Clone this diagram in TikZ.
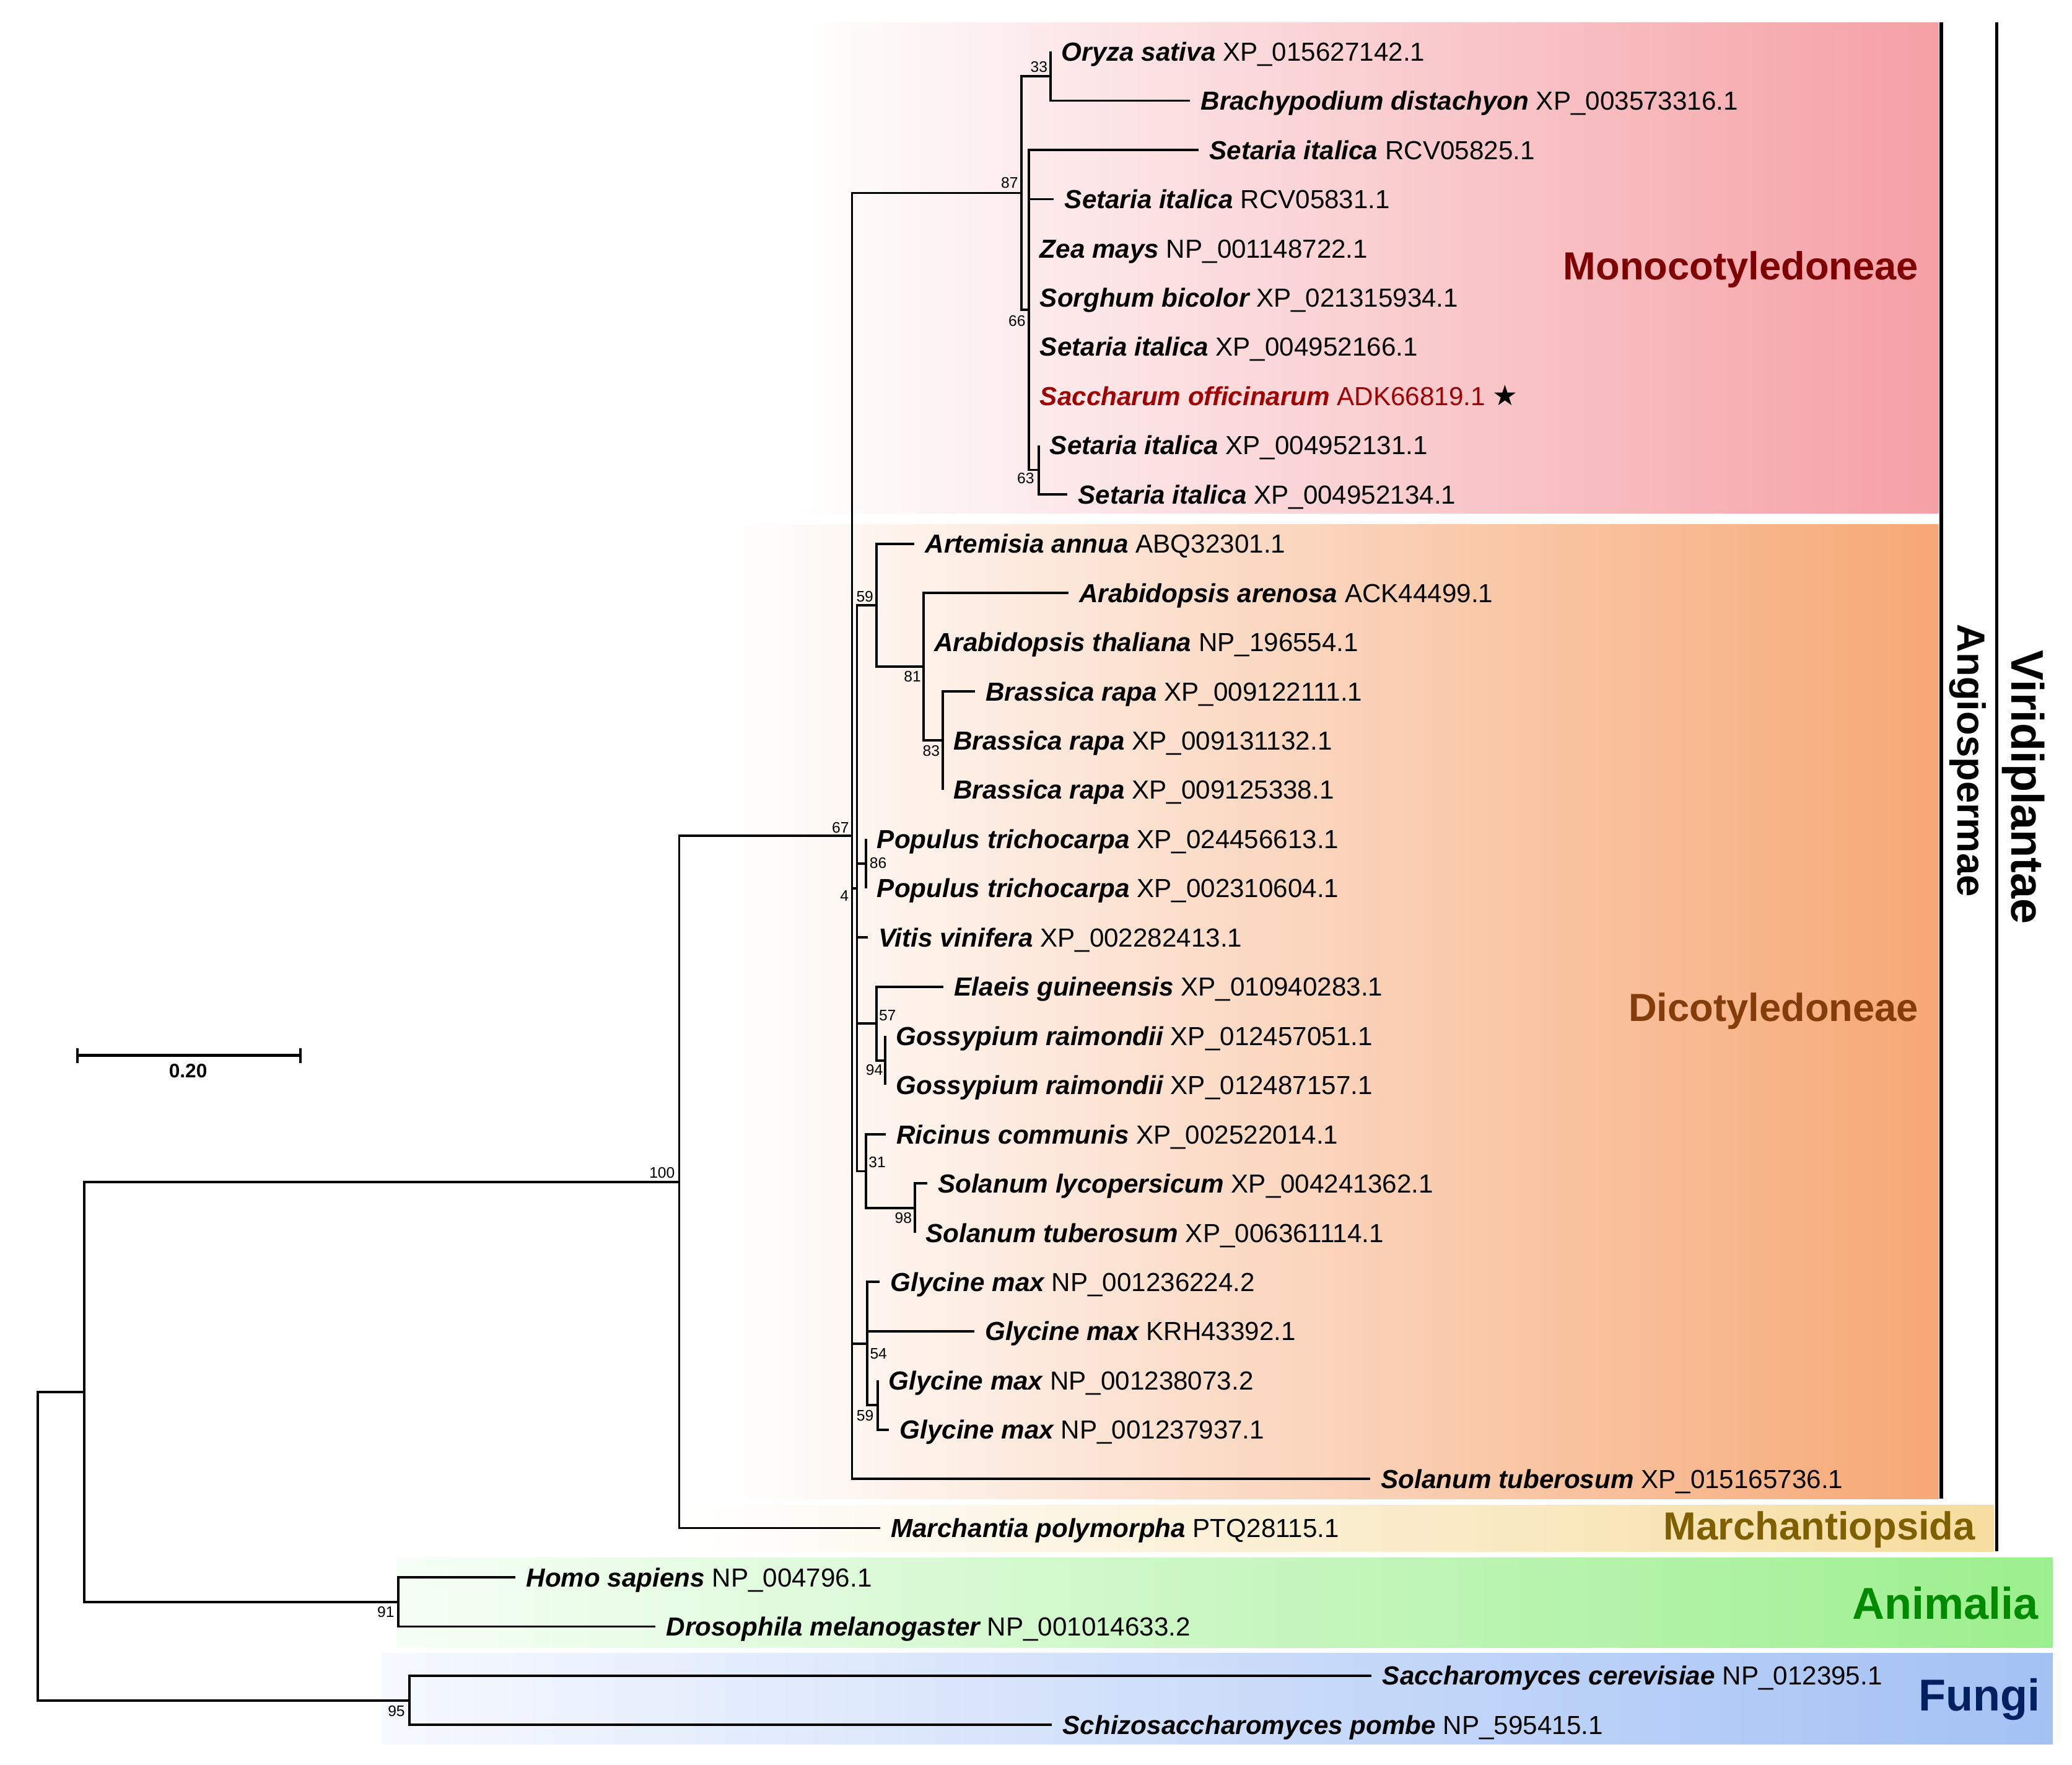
\documentclass[tikz,border=0pt]{standalone}
\usepackage{fontspec}
\setmainfont{Liberation Sans}
\newfontfamily\dejavu{DejaVu Sans}
\definecolor{monoR}{HTML}{F5A0A5}
\definecolor{dicotR}{HTML}{F6A875}
\definecolor{marR}{HTML}{F6DC9E}
\definecolor{animL}{HTML}{F6FFF6}
\definecolor{animR}{HTML}{9CEF8E}
\definecolor{fungL}{HTML}{F6F9FF}
\definecolor{fungR}{HTML}{A3C1F4}
\definecolor{monoT}{HTML}{7F0000}
\definecolor{dicotT}{HTML}{843C0B}
\definecolor{marT}{HTML}{7F6000}
\definecolor{animT}{HTML}{008A00}
\definecolor{fungT}{HTML}{002060}
\definecolor{sacT}{HTML}{A00000}
\newcommand{\lf}[2]{{\bfseries\itshape #1} #2}
\begin{document}
\begin{tikzpicture}[x=0.021333cm,y=-0.021333cm,
  br/.style={line width=1.1pt},
  bar/.style={line width=1.6pt},
  scalebar/.style={line width=1.3pt},
  leaf/.style={anchor=base west, inner sep=0pt, xshift=4.8pt, yshift=-4.3pt, font=\fontsize{12}{14}\selectfont},
  bs/.style={inner sep=0pt, font=\fontsize{7}{8}\selectfont},
  clade/.style={inner sep=0pt, anchor=base east, yshift=-6.4pt, font=\fontsize{18}{20}\selectfont\bfseries},
  bigclade/.style={inner sep=0pt, anchor=base east, yshift=-7.3pt, font=\fontsize{20.5}{22}\selectfont\bfseries},
]
\useasboundingbox (0,0) rectangle (1568,1335.5);

% background bands
\shade[left color=white, right color=monoR] (600,17) rectangle (1467,388.5);
\shade[left color=white, right color=dicotR] (552,396.7) rectangle (1467,1134);
\shade[left color=white, right color=marR] (520,1139) rectangle (1509,1174);
\shade[left color=animL, right color=animR] (300,1178.5) rectangle (1553.5,1246.5);
\shade[left color=fungL, right color=fungR] (289,1250.7) rectangle (1553.5,1320);

% internal nodes
\coordinate (root) at (28.5,1169.9);
\coordinate (nA) at (63.6,1053.2);
\coordinate (nAnim) at (301.4,1212.05);
\coordinate (nF) at (309.7,1286.55);
\coordinate (nPlant) at (514,894.35);
\coordinate (nAngio) at (644.8,632.5);
\coordinate (nMono) at (772.9,146.05);
\coordinate (n33) at (795.2,57.6);
\coordinate (n66) at (778.8,234.5);
\coordinate (n63) at (786.3,355.55);
\coordinate (n4) at (648.5,672.1);
\coordinate (n59) at (663.3,457.95);
\coordinate (n81) at (698.9,504.5);
\coordinate (n83) at (713.3,560.35);
\coordinate (n86) at (655.5,653.45);
\coordinate (n57) at (663.3,774.5);
\coordinate (n94) at (670,802.4);
\coordinate (n31) at (655.5,886.2);
\coordinate (n98) at (692.3,914.15);
\coordinate (n54) at (656.3,1016.55);
\coordinate (n59b) at (664.4,1063.1);

% tips
\coordinate (t0) at (795.2,39.0);
\coordinate (t1) at (900.5,76.2);
\coordinate (t2) at (907,113.5);
\coordinate (t3) at (797.5,150.7);
\coordinate (t4) at (778.8,188.0);
\coordinate (t5) at (778.8,225.2);
\coordinate (t6) at (778.8,262.4);
\coordinate (t7) at (778.8,299.7);
\coordinate (t8) at (786.3,336.9);
\coordinate (t9) at (807.7,374.2);
\coordinate (t10) at (692,411.4);
\coordinate (t11) at (808.4,448.6);
\coordinate (t12) at (698.9,485.9);
\coordinate (t13) at (737.7,523.1);
\coordinate (t14) at (713.3,560.4);
\coordinate (t15) at (713.3,597.6);
\coordinate (t16) at (655.5,634.8);
\coordinate (t17) at (655.5,672.1);
\coordinate (t18) at (656.6,709.3);
\coordinate (t19) at (714,746.6);
\coordinate (t20) at (670,783.8);
\coordinate (t21) at (670,821.0);
\coordinate (t22) at (670.3,858.3);
\coordinate (t23) at (701.6,895.5);
\coordinate (t24) at (692.3,932.8);
\coordinate (t25) at (665.6,970.0);
\coordinate (t26) at (737.2,1007.2);
\coordinate (t27) at (664.4,1044.5);
\coordinate (t28) at (672.7,1081.7);
\coordinate (t29) at (1037,1119.0);
\coordinate (t30) at (666,1156.2);
\coordinate (t31) at (390,1193.4);
\coordinate (t32) at (496,1230.7);
\coordinate (t33) at (1038,1267.9);
\coordinate (t34) at (796,1305.2);

% branches
\foreach \p/\c in {root/nA, root/nF, nA/nPlant, nA/nAnim, nAnim/t31, nAnim/t32,
  nF/t33, nF/t34, nPlant/nAngio, nPlant/t30, nAngio/nMono, nAngio/n4, nAngio/n54, nAngio/t29,
  nMono/n33, nMono/n66, n33/t0, n33/t1, n66/t2, n66/t3, n66/t4, n66/t5, n66/t6, n66/t7, n66/n63,
  n63/t8, n63/t9, n4/n59, n4/n86, n4/t18, n4/n57, n4/n31, n59/t10, n59/n81,
  n81/t11, n81/t12, n81/n83, n83/t13, n83/t14, n83/t15, n86/t16, n86/t17,
  n57/t19, n57/n94, n94/t20, n94/t21, n31/t22, n31/n98, n98/t23, n98/t24,
  n54/t25, n54/t26, n54/n59b, n59b/t27, n59b/t28}
  \draw[br] (\p) |- (\c);

% leaf labels
\node[leaf] (L0) at (t0) {\lf{Oryza sativa}{XP\_015627142.1}};
\node[leaf] (L1) at (t1) {\lf{Brachypodium distachyon}{XP\_003573316.1}};
\node[leaf] (L2) at (t2) {\lf{Setaria italica}{RCV05825.1}};
\node[leaf] (L3) at (t3) {\lf{Setaria italica}{RCV05831.1}};
\node[leaf] (L4) at (t4) {\lf{Zea mays}{NP\_001148722.1}};
\node[leaf] (L5) at (t5) {\lf{Sorghum bicolor}{XP\_021315934.1}};
\node[leaf] (L6) at (t6) {\lf{Setaria italica}{XP\_004952166.1}};
\node[leaf] (L7) at (t7) {{\color{sacT}\lf{Saccharum officinarum}{ADK66819.1}} {\dejavu\fontsize{13}{14}\selectfont ★}};
\node[leaf] (L8) at (t8) {\lf{Setaria italica}{XP\_004952131.1}};
\node[leaf] (L9) at (t9) {\lf{Setaria italica}{XP\_004952134.1}};
\node[leaf] (L10) at (t10) {\lf{Artemisia annua}{ABQ32301.1}};
\node[leaf] (L11) at (t11) {\lf{Arabidopsis arenosa}{ACK44499.1}};
\node[leaf] (L12) at (t12) {\lf{Arabidopsis thaliana}{NP\_196554.1}};
\node[leaf] (L13) at (t13) {\lf{Brassica rapa}{XP\_009122111.1}};
\node[leaf] (L14) at (t14) {\lf{Brassica rapa}{XP\_009131132.1}};
\node[leaf] (L15) at (t15) {\lf{Brassica rapa}{XP\_009125338.1}};
\node[leaf] (L16) at (t16) {\lf{Populus trichocarpa}{XP\_024456613.1}};
\node[leaf] (L17) at (t17) {\lf{Populus trichocarpa}{XP\_002310604.1}};
\node[leaf] (L18) at (t18) {\lf{Vitis vinifera}{XP\_002282413.1}};
\node[leaf] (L19) at (t19) {\lf{Elaeis guineensis}{XP\_010940283.1}};
\node[leaf] (L20) at (t20) {\lf{Gossypium raimondii}{XP\_012457051.1}};
\node[leaf] (L21) at (t21) {\lf{Gossypium raimondii}{XP\_012487157.1}};
\node[leaf] (L22) at (t22) {\lf{Ricinus communis}{XP\_002522014.1}};
\node[leaf] (L23) at (t23) {\lf{Solanum lycopersicum}{XP\_004241362.1}};
\node[leaf] (L24) at (t24) {\lf{Solanum tuberosum}{XP\_006361114.1}};
\node[leaf] (L25) at (t25) {\lf{Glycine max}{NP\_001236224.2}};
\node[leaf] (L26) at (t26) {\lf{Glycine max}{KRH43392.1}};
\node[leaf] (L27) at (t27) {\lf{Glycine max}{NP\_001238073.2}};
\node[leaf] (L28) at (t28) {\lf{Glycine max}{NP\_001237937.1}};
\node[leaf] (L29) at (t29) {\lf{Solanum tuberosum}{XP\_015165736.1}};
\node[leaf] (L30) at (t30) {\lf{Marchantia polymorpha}{PTQ28115.1}};
\node[leaf] (L31) at (t31) {\lf{Homo sapiens}{NP\_004796.1}};
\node[leaf] (L32) at (t32) {\lf{Drosophila melanogaster}{NP\_001014633.2}};
\node[leaf] (L33) at (t33) {\lf{Saccharomyces cerevisiae}{NP\_012395.1}};
\node[leaf] (L34) at (t34) {\lf{Schizosaccharomyces pombe}{NP\_595415.1}};

% bootstrap values
\node[bs] (b33) at (786.3,50.8) {33};
\node[bs] (b87) at (764,138.5) {87};
\node[bs] (b66) at (769.6,242.6) {66};
\node[bs] (b63) at (776.2,362) {63};
\node[bs] (b59) at (654.5,451.3) {59};
\node[bs] (b81) at (690.5,511.7) {81};
\node[bs] (b83) at (704.7,568) {83};
\node[bs] (b67) at (636,626.3) {67};
\node[bs] (b86) at (664.5,653.1) {86};
\node[bs] (b4) at (639,677.8) {4};
\node[bs] (b57) at (671.6,768.4) {57};
\node[bs] (b94) at (661.7,809.4) {94};
\node[bs] (b31) at (663.8,879.4) {31};
\node[bs] (b98) at (683.6,921.6) {98};
\node[bs] (b54) at (664.8,1024.2) {54};
\node[bs] (b59b) at (654.7,1071) {59};
\node[bs] (b100) at (501,887.4) {100};
\node[bs] (b91) at (292,1219.7) {91};
\node[bs] (b95) at (300,1294.6) {95};

% clade labels
\node[clade, text=monoT] (cMono) at (1452,200.9) {Monocotyledoneae};
\node[clade, text=dicotT] (cDicot) at (1452,762.4) {Dicotyledoneae};
\node[clade, text=marT] (cMar) at (1495,1154.4) {Marchantiopsida};
\node[bigclade, text=animT] (cAnim) at (1543,1213) {Animalia};
\node[bigclade, text=fungT] (cFung) at (1544,1282.3) {Fungi};

% bracket bars
\coordinate (angTop) at (1469,17);
\coordinate (angBot) at (1469,1134);
\coordinate (virTop) at (1511,17);
\coordinate (virBot) at (1511,1174);
\draw[bar] (angTop) -- (angBot);
\draw[bar] (virTop) -- (virBot);
\node[rotate=-90, inner sep=0pt, font=\fontsize{18}{20}\selectfont\bfseries] (cAng) at (1489,575.5) {Angiospermae};
\node[rotate=-90, inner sep=0pt, font=\fontsize{21}{23}\selectfont\bfseries] (cVir) at (1531,595.6) {Viridiplantae};

% scale bar
\coordinate (sb1) at (58.6,798.6);
\coordinate (sb2) at (227.3,798.6);
\draw[scalebar] (sb1) -- (sb2);
\draw[scalebar] ([yshift=3.4pt]sb1) -- ([yshift=-3.4pt]sb1);
\draw[scalebar] ([yshift=3.4pt]sb2) -- ([yshift=-3.4pt]sb2);
\node[inner sep=0pt, font=\fontsize{9}{10}\selectfont\bfseries] (sbl) at (142.3,810.5) {0.20};
\end{tikzpicture}
\end{document}
